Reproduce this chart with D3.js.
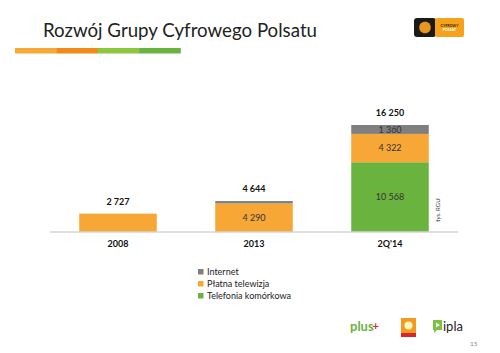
<!DOCTYPE html>
<html lang="pl">
<meta charset="utf-8">
<script src="https://d3js.org/d3.v7.min.js"></script>
<head>
<style>
  body { margin: 0; background: #fff; }
  text { font-family: Lato, "Open Sans", sans-serif; }
</style>
</head>
<body>
<div id="chart"></div>
<script>
// data (tys. RGU)
const categories = ["2008", "2013", "2Q'14"];
const mobile = [0, 0, 10568];
const payTv = [2727, 4290, 4322];
const internet = [0, 354, 1360];
const totals = ["2 727", "4 644", "16 250"];
const seriesNames = ["Telefonia komórkowa", "Płatna telewizja", "Internet"];
const seriesColors = ["#6ab33e", "#f6a735", "#7f7f7f"];
// which bars get values printed inside the segments
const showInner = [false, true, true];

const W = 500, H = 353;
const svg = d3.select("#chart").append("svg")
  .attr("width", W).attr("height", H);

// title + coloured strip
svg.append("text")
  .attr("x", 43).attr("y", 36.5)
  .attr("font-size", 19.5).attr("fill", "#222")
  .attr("textLength", 274).attr("lengthAdjust", "spacingAndGlyphs")
  .text("Rozwój Grupy Cyfrowego Polsatu");

const stripCols = ["#f6a735", "#f28a1a", "#8dc63f", "#6ab33e"];
const stripX = d3.scaleBand().domain(d3.range(4)).range([15, 180.5]);
svg.selectAll("rect.strip").data(stripCols).join("rect")
  .attr("class", "strip")
  .attr("x", (d, i) => stripX(i)).attr("y", 48)
  .attr("width", stripX.bandwidth() + 0.3).attr("height", 5.5)
  .attr("fill", d => d);

// top-right logo
const logo = svg.append("g").attr("transform", "translate(414,18)");
logo.append("rect").attr("width", 22).attr("height", 19).attr("rx", 3).attr("fill", "#1a1a1a");
logo.append("circle").attr("cx", 11).attr("cy", 9.5).attr("r", 6).attr("fill", "#e8961e");
logo.append("circle").attr("cx", 11).attr("cy", 9.5).attr("r", 6).attr("fill", "none")
  .attr("stroke", "#1a1a1a").attr("stroke-width", 0.6).attr("stroke-dasharray", "1.2 1");
logo.append("rect").attr("x", 21).attr("width", 29).attr("height", 19).attr("rx", 2).attr("fill", "#f7a21b");
logo.append("text").attr("x", 35.5).attr("y", 8.5).attr("font-size", 3.6).attr("text-anchor", "middle")
  .attr("fill", "#222").attr("font-weight", "bold").text("CYFROWY");
logo.append("text").attr("x", 35.5).attr("y", 13).attr("font-size", 3.6).attr("text-anchor", "middle")
  .attr("fill", "#fff").attr("font-weight", "bold").text("POLSAT");

// chart
const x0 = 50, x1 = 458, baseY = 231.5;
const x = d3.scaleBand().domain(categories).range([x0, x1]).paddingInner(0.43).paddingOuter(0.215);
const y = d3.scaleLinear().domain([0, 16250]).range([baseY, 125]);

const rows = categories.map((c, i) => ({ cat: c, mobile: mobile[i], payTv: payTv[i], internet: internet[i] }));
const stack = d3.stack().keys(["mobile", "payTv", "internet"])(rows);

svg.append("g").selectAll("g").data(stack).join("g")
  .attr("fill", (d, i) => seriesColors[i])
  .selectAll("rect").data(d => d).join("rect")
  .attr("x", d => x(d.data.cat))
  .attr("y", d => y(d[1]))
  .attr("width", x.bandwidth())
  .attr("height", d => y(d[0]) - y(d[1]));

// axis
const axis = svg.append("g").attr("transform", `translate(0,${baseY})`)
  .call(d3.axisBottom(x).tickSize(0).tickPadding(9));
axis.select(".domain").attr("stroke", "#bfbfbf").attr("d", `M${x0},0.5H${x1}`);
axis.selectAll("text").attr("font-size", 9).attr("font-weight", "bold").attr("fill", "#111")
  .attr("font-family", "Lato, sans-serif");

// inner labels (only segments big enough)
const inner = [];
stack.forEach(s => s.forEach((d, i) => {
  const v = d[1] - d[0];
  if (showInner[i] && v > 1000) inner.push({ cat: d.data.cat, mid: (d[0] + d[1]) / 2, v });
}));
const fmt = v => d3.format(",")(v).replace(/,/g, " ");
svg.selectAll("text.inner").data(inner).join("text")
  .attr("class", "inner")
  .attr("x", d => x(d.cat) + x.bandwidth() / 2)
  .attr("y", d => y(d.mid))
  .attr("dy", "0.35em")
  .attr("text-anchor", "middle")
  .attr("font-size", 9).attr("fill", "#333")
  .text(d => fmt(d.v));

// totals
svg.selectAll("text.total").data(categories).join("text")
  .attr("class", "total")
  .attr("x", d => x(d) + x.bandwidth() / 2)
  .attr("y", (d, i) => y(mobile[i] + payTv[i] + internet[i]) - 9)
  .attr("text-anchor", "middle")
  .attr("font-size", 9).attr("font-weight", "bold").attr("fill", "#111")
  .text((d, i) => totals[i]);

// unit
svg.append("text")
  .attr("transform", "translate(440,210) rotate(-90)")
  .attr("text-anchor", "middle").attr("font-size", 6).attr("fill", "#333")
  .text("tys. RGU");

// legend (top to bottom: Internet, Płatna telewizja, Telefonia)
const legOrder = [2, 1, 0];
const leg = svg.append("g").selectAll("g").data(legOrder).join("g")
  .attr("transform", (d, i) => `translate(198,${272 + i * 12})`);
leg.append("rect").attr("x", 0).attr("y", -3).attr("width", 5.5).attr("height", 5.5)
  .attr("fill", d => seriesColors[d]);
leg.append("text").attr("x", 9).attr("y", 0).attr("dy", "0.35em")
  .attr("font-size", 9).attr("fill", "#222").text(d => seriesNames[d]);

// bottom logos
svg.append("text").attr("x", 350).attr("y", 331).attr("font-size", 13)
  .attr("font-weight", "bold").attr("fill", "#6ab33e").text("plus");
svg.append("text").attr("x", 372.5).attr("y", 330).attr("font-size", 11)
  .attr("font-weight", "bold").attr("fill", "#d9262c").text("+");
const pl = svg.append("g").attr("transform", "translate(401,318)");
pl.append("rect").attr("width", 15).attr("height", 19).attr("fill", "#f39a1e");
pl.append("circle").attr("cx", 7.5).attr("cy", 7.5).attr("r", 4).attr("fill", "#fff6c0");
pl.append("rect").attr("y", 15).attr("width", 15).attr("height", 4).attr("fill", "#d7262c");
const ip = svg.append("g").attr("transform", "translate(433,320)");
ip.append("path").attr("d", "M0,0H9V10H4L1,13V10H0Z").attr("fill", "#7cc142");
ip.append("path").attr("d", "M3,2.5L7,5L3,7.5Z").attr("fill", "#fff");
svg.append("text").attr("x", 443).attr("y", 331).attr("font-size", 13)
  .attr("fill", "#222").text("ipla");

svg.append("text").attr("x", 470).attr("y", 346).attr("font-size", 6.5)
  .attr("fill", "#888").text("15");
</script>
</body>
</html>
